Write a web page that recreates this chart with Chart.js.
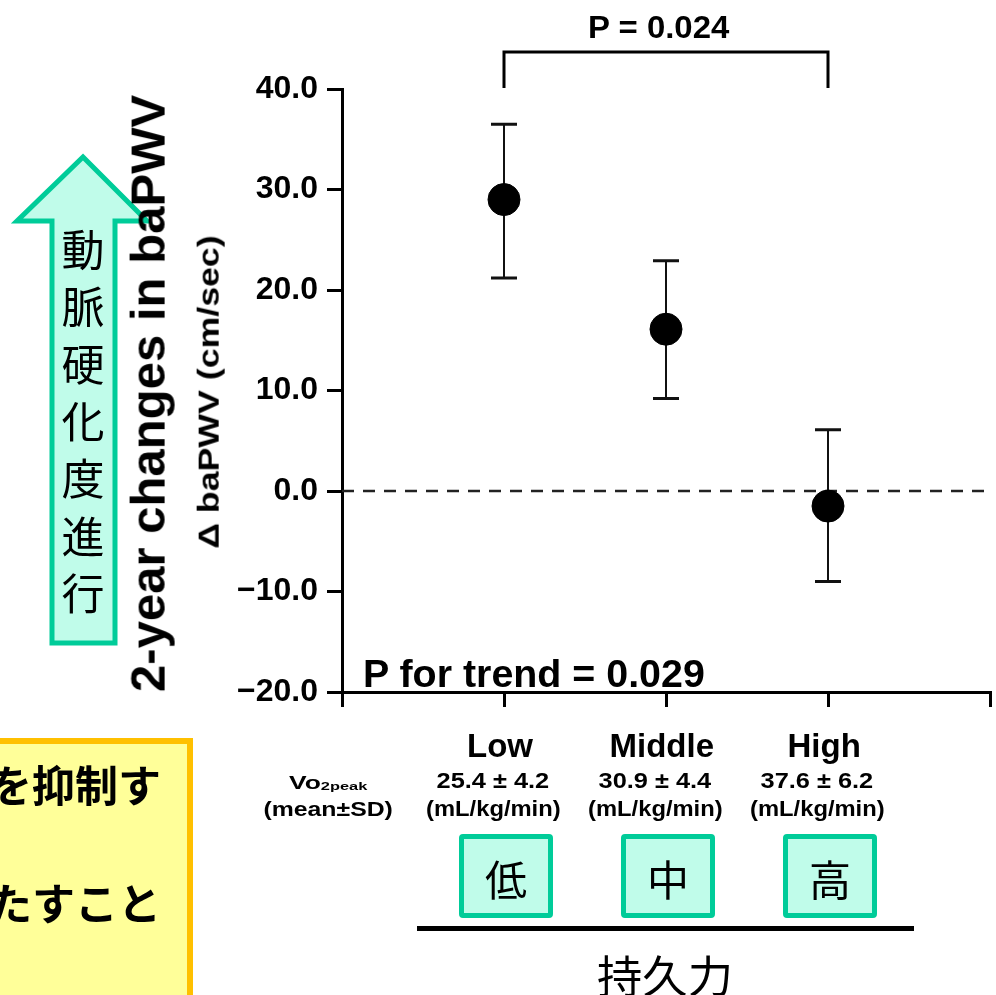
<!DOCTYPE html>
<html>
<head>
<meta charset="utf-8">
<script src="https://cdn.jsdelivr.net/npm/chart.js@4.4.1/dist/chart.umd.min.js"></script>
<style>
  html, body { margin: 0; padding: 0; background: #fff; overflow: hidden; }
  body { width: 996px; height: 995px; position: relative; }
  #chart { position: absolute; left: 0; top: 0; }
  .lbl { position: absolute; white-space: nowrap; line-height: 1; color: #000; }
  .lbl sub { font-size: 0.62em; vertical-align: -0.1em; }
  .box { position: absolute; box-sizing: border-box; }
  .lvl { border: 5px solid #00cc99; background: #c0fcea; border-radius: 4px; }
  .note { border: 6px solid #ffc000; background: #ffff99; }
  svg { position: absolute; left: 0; top: 0; }
</style>
</head>
<body>
<svg width="200" height="700">
  <polygon points="83,157 147,221 115,221 115,643 52,643 52,221 17,221"
           fill="#c0fcea" stroke="#00cc99" stroke-width="5" stroke-linejoin="miter"/>
</svg>
<div class="box note" style="left:-20px; top:738px; width:213px; height:280px;"></div>
<canvas id="chart" width="996" height="995"></canvas>
<script>
// groups on the x axis
const groups = ['Low', 'Middle', 'High'];
const groupX = [1, 2, 3];
const vo2Peak = ['25.4 ± 4.2', '30.9 ± 4.4', '37.6 ± 6.2'];
const vo2Unit = ['(mL/kg/min)', '(mL/kg/min)', '(mL/kg/min)'];
const levels = ['低', '中', '高'];

// 2-year change in baPWV (cm/sec), mean and error bar ends
const meanChange = [29.0, 16.1, -1.5];
const upperBar = [36.5, 22.9, 6.1];
const lowerBar = [21.2, 9.2, -9.0];

// y axis range
const yMin = -20, yMax = 40, yStep = 10;
const zeroLine = [{ x: 0, y: 0 }, { x: 4, y: 0 }];

const LATIN = '"Liberation Sans", Arial, sans-serif';
const CJK = '"Noto Sans CJK JP", "Noto Sans CJK SC", sans-serif';

const errorBars = {
  id: 'errorBars',
  beforeDatasetsDraw(chart) {
    const { ctx, scales: { x, y } } = chart;
    ctx.save();
    ctx.strokeStyle = '#111';
    groupX.forEach((g, i) => {
      const px = x.getPixelForValue(g);
      const top = y.getPixelForValue(upperBar[i]);
      const bot = y.getPixelForValue(lowerBar[i]);
      ctx.lineWidth = 2;
      ctx.beginPath();
      ctx.moveTo(px, top);
      ctx.lineTo(px, bot);
      ctx.stroke();
      ctx.lineWidth = 3;
      ctx.beginPath();
      ctx.moveTo(px - 13, top); ctx.lineTo(px + 13, top);
      ctx.moveTo(px - 13, bot); ctx.lineTo(px + 13, bot);
      ctx.stroke();
    });
    ctx.restore();
  },
  afterDraw(chart) {
    // significance bracket Low vs High
    const { ctx, scales: { x } } = chart;
    const a = x.getPixelForValue(groupX[0]);
    const b = x.getPixelForValue(groupX[2]);
    ctx.save();
    ctx.strokeStyle = '#000';
    ctx.lineWidth = 3;
    ctx.beginPath();
    ctx.moveTo(a, 88);
    ctx.lineTo(a, 52);
    ctx.lineTo(b, 52);
    ctx.lineTo(b, 88);
    ctx.stroke();
    ctx.restore();
  }
};

const chart = new Chart(document.getElementById('chart'), {
  type: 'scatter',
  data: {
    datasets: [
      {
        data: groupX.map((g, i) => ({ x: g, y: meanChange[i] })),
        backgroundColor: '#000',
        borderColor: '#000',
        pointRadius: 16,
        pointHoverRadius: 16,
        order: 0
      },
      {
        type: 'line',
        data: zeroLine,
        borderColor: '#222',
        borderWidth: 2.5,
        borderDash: [12, 9],
        pointRadius: 0,
        order: 1
      }
    ]
  },
  options: {
    responsive: false,
    animation: false,
    devicePixelRatio: 1,
    layout: { autoPadding: false, padding: { top: 89, right: 6, left: 0, bottom: 0 } },
    plugins: { legend: { display: false }, tooltip: { enabled: false } },
    scales: {
      x: {
        type: 'linear',
        min: 0,
        max: 4,
        ticks: { stepSize: 1, display: false },
        grid: { drawOnChartArea: false, tickLength: 15, tickWidth: 3, tickColor: '#000', lineWidth: 3, color: '#000' },
        border: { color: '#000', width: 3 },
        afterFit: s => { s.height = 303; }
      },
      y: {
        min: yMin,
        max: yMax,
        ticks: {
          stepSize: yStep,
          color: '#000',
          padding: 9,
          font: { family: LATIN, size: 32, weight: 'bold' },
          callback: v => (v < 0 ? '\u2212' : '') + Math.abs(v).toFixed(1)
        },
        grid: { drawOnChartArea: false, tickLength: 15, tickWidth: 3, tickColor: '#000', lineWidth: 3, color: '#000' },
        border: { color: '#000', width: 3 },
        afterFit: s => { s.width = 342; }
      }
    }
  },
  plugins: [errorBars]
});

function label(html, cx, cy, font, fit, rot) {
  const el = document.createElement('div');
  el.className = 'lbl';
  el.innerHTML = html;
  el.style.font = font;
  document.body.appendChild(el);
  const w = el.offsetWidth, h = el.offsetHeight;
  el.style.left = (cx - w / 2) + 'px';
  el.style.top = (cy - h / 2) + 'px';
  let t = '';
  if (rot) t += 'rotate(' + rot + 'deg) ';
  if (fit) t += 'scaleX(' + (fit / w) + ')';
  if (t) el.style.transform = t;
  return el;
}

const xs = chart.scales.x;

label('P = 0.024', 658, 27, 'bold 32px ' + LATIN, 141);
label('P for trend = 0.029', 534, 674, 'bold 38px ' + LATIN, 342);
label('2-year changes in baPWV', 148, 393, 'bold 48px ' + LATIN, 597, -90);
label('Δ baPWV (cm/sec)', 208, 392, 'bold 30px ' + LATIN, 313, -90);

groups.forEach((g, i) => {
  const px = xs.getPixelForValue(groupX[i]);
  label(g, px - 4, 746, 'bold 33px ' + LATIN, null);
  label(vo2Peak[i], px - 11, 781, 'bold 22px ' + LATIN, 113);
  label(vo2Unit[i], px - 11, 809, 'bold 22px ' + LATIN, 135);
  const bx = document.createElement('div');
  bx.className = 'box lvl';
  bx.style.left = (px + 2 - 47) + 'px';
  bx.style.top = '834px';
  bx.style.width = '94px';
  bx.style.height = '84px';
  document.body.appendChild(bx);
  label(levels[i], px + 2, 877, '42px ' + CJK, null);
});

label('Vo<sub>2peak</sub>', 328, 783, 'bold 19px ' + LATIN, 78);
label('(mean±SD)', 328, 809, 'bold 20px ' + LATIN, 129);

// bottom rule and caption
const rule = document.createElement('div');
rule.className = 'box';
rule.style.cssText += 'left:417px; top:926px; width:497px; height:5px; background:#000;';
document.body.appendChild(rule);
label('持久力', 665, 974, '44px ' + CJK, 136);

// arrow text
'動脈硬化度進行'.split('').forEach((c, i) => {
  label(c, 83, 247 + i * 57.3, '43px ' + CJK, null);
});

// note box text (cropped on the left)
label('を抑制す', 75, 783, 'bold 43px ' + CJK, 172);
label('たすこと', 75, 901, 'bold 43px ' + CJK, 172);
</script>
</body>
</html>
